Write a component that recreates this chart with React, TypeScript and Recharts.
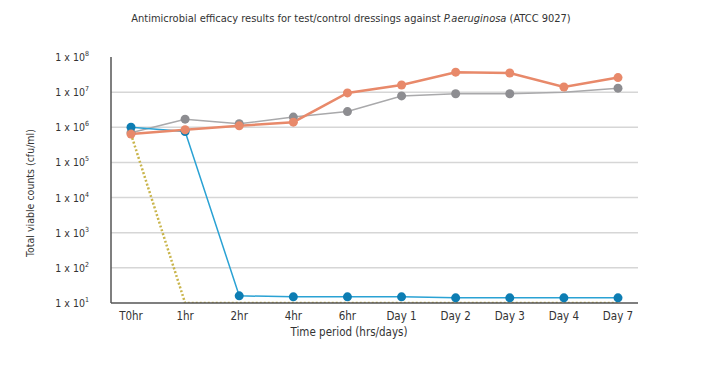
import React from "react";
import { LineChart, Line, XAxis, YAxis, CartesianGrid, Label } from "recharts";

const timePoints = ["T0hr", "1hr", "2hr", "4hr", "6hr", "Day 1", "Day 2", "Day 3", "Day 4", "Day 7"];
const orangeCounts = [640000, 850000, 1100000, 1400000, 9500000, 16000000, 37000000, 35000000, 14000000, 26000000];
const greyCounts = [700000, 1700000, 1260000, 1950000, 2800000, 7800000, 9000000, 9000000, 10000000, 13000000];
const blueCounts = [1000000, 760000, 16, 15, 15, 15, 14, 14, 14, 14];
const yellowCounts = [640000, 10, 10, 10, 10, 10, 10, 10, 10, 10];
const yTicks = [10, 100, 1000, 10000, 100000, 1000000, 10000000, 100000000];
const gridValues = [100, 1000, 10000, 100000, 1000000, 10000000];

const rows = timePoints.map((t, i) => ({
  time: t,
  orange: orangeCounts[i],
  grey: greyCounts[i],
  blue: blueCounts[i],
  yellow: yellowCounts[i],
}));

const FONT = '"DejaVu Sans", sans-serif';
const TEXT = "#333";
const narrow = { fontStretch: "condensed" as const };

function PowerTick(props: any) {
  const { x, y, payload } = props;
  const exp = Math.round(Math.log10(payload.value));
  return (
    <text x={x - 14} y={y} dy={4} textAnchor="end" fill={TEXT} fontSize={10.5} fontFamily={FONT} style={narrow}>
      <tspan>1 x 10</tspan>
      <tspan dy={-5} fontSize={7}>{exp}</tspan>
    </text>
  );
}

function XTick(props: any) {
  const { x, y, payload } = props;
  return (
    <text x={x} y={y} dy={9} textAnchor="middle" fill={TEXT} fontSize={11.5} fontFamily={FONT} style={narrow}>
      {payload.value}
    </text>
  );
}

// the grey series shows no marker at Day 4 in the source figure
function greyDot(props: any) {
  const { cx, cy, index } = props;
  if (index === 8) return <g key={"g" + index} />;
  return <circle key={"g" + index} cx={cx} cy={cy} r={4.5} fill="#8d8d91" />;
}

export default function App() {
  return (
    <div style={{ position: "relative", width: 713, height: 366, background: "#fff" }}>
      <div
        style={{
          position: "absolute",
          top: 4,
          left: 0,
          width: 686,
          textAlign: "center",
          fontFamily: FONT,
          fontStretch: "condensed",
          fontSize: 11,
          color: TEXT,
        }}
      >
        Antimicrobial efficacy results for test/control dressings against <i>P.aeruginosa</i> (ATCC 9027)
      </div>
      <LineChart width={713} height={366} data={rows} margin={{ top: 49, right: 83, left: 0, bottom: 41 }}>
        <CartesianGrid horizontal vertical={false} horizontalValues={gridValues} stroke="#d6d6d6" strokeWidth={1.5} />
        <XAxis
          dataKey="time"
          padding={{ left: 20, right: 20 }}
          tickLine={false}
          axisLine={{ stroke: "#555", strokeWidth: 1.5 }}
          tick={<XTick />}
          height={30}
        >
          <Label
            content={() => (
              <text x={341} y={328} textAnchor="middle" fill={TEXT} fontSize={11.5} fontFamily={FONT} style={narrow}>
                Time period (hrs/days)
              </text>
            )}
          />
        </XAxis>
        <YAxis
          scale="log"
          domain={[10, 100000000]}
          ticks={yTicks}
          allowDataOverflow
          width={103}
          tickLine={false}
          axisLine={{ stroke: "#555", strokeWidth: 1.5 }}
          tick={<PowerTick />}
        >
          <Label
            content={() => (
              <text
                x={26}
                y={185}
                transform="rotate(-90, 26, 185)"
                textAnchor="middle"
                fill={TEXT}
                fontSize={10.5}
                fontFamily={FONT}
                style={narrow}
              >
                Total viable counts (cfu/ml)
              </text>
            )}
          />
        </YAxis>
        <Line
          dataKey="yellow"
          stroke="#c9b54c"
          strokeWidth={2.5}
          strokeDasharray="2 2"
          dot={false}
          isAnimationActive={false}
        />
        <Line
          dataKey="grey"
          stroke="#a9a9ab"
          strokeWidth={1.5}
          dot={greyDot}
          isAnimationActive={false}
        />
        <Line
          dataKey="blue"
          stroke="#2aa2d4"
          strokeWidth={1.5}
          dot={{ r: 4.5, fill: "#0d7db3", stroke: "none" }}
          isAnimationActive={false}
        />
        <Line
          dataKey="orange"
          stroke="#e8896a"
          strokeWidth={2.5}
          dot={{ r: 4.5, fill: "#e8896a", stroke: "none" }}
          isAnimationActive={false}
        />
      </LineChart>
    </div>
  );
}
